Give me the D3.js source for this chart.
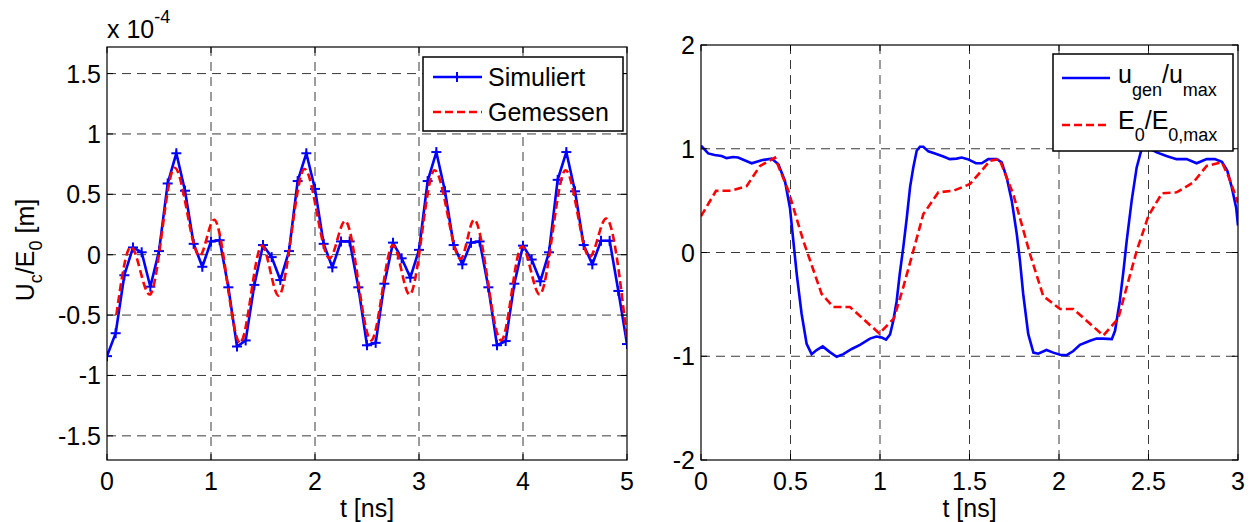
<!DOCTYPE html>
<html>
<head>
<meta charset="utf-8">
<script src="https://cdn.jsdelivr.net/npm/d3@7"></script>
<style>
  body { margin: 0; background: #fff; }
  svg { display: block; font-family: "Liberation Sans", Arial, sans-serif; }
  .grid line { stroke: #3a3a3a; stroke-width: 1; stroke-dasharray: 9,6; }
  .frame { fill: none; stroke: #000; stroke-width: 1.2; }
  .tick { stroke: #000; stroke-width: 1; }
  .blue { fill: none; stroke: #0000ff; stroke-width: 2.6; }
  .red { fill: none; stroke: #ff0000; stroke-width: 2.6; stroke-dasharray: 8,4; }
  .mark { stroke: #0000ff; stroke-width: 2; }
  text { font-size: 25px; fill: #000; }
</style>
</head>
<body>
<div id="chart"></div>
<script>
// ---- data, left panel (values in units of 1e-4 m) ----
const simStep = 1/12; // ns between simulated samples
const simValues = [-0.84,-0.65,-0.17,0.06,0.02,-0.265,0.03,0.59,0.84,0.53,
  0.09,-0.10,0.11,0.12,-0.27,-0.76,-0.71,-0.25,0.08,-0.02,
  -0.21,0.03,0.61,0.84,0.545,0.09,-0.105,0.11,0.11,-0.27,
  -0.75,-0.73,-0.24,0.10,-0.03,-0.19,0.04,0.61,0.85,0.525,
  0.08,-0.08,0.10,0.11,-0.27,-0.75,-0.715,-0.24,0.075,-0.04,
  -0.22,0.02,0.62,0.85,0.525,0.08,-0.08,0.115,0.115,-0.30,-0.74];
const measT = [0.09,0.23,0.41,0.65,0.89,1.03,1.28,1.49,1.65,1.90,2.14,2.29,2.54,
  2.75,2.91,3.15,3.40,3.53,3.79,3.99,4.16,4.41,4.64,4.80,5.00];
const measValues = [-0.50,0.065,-0.33,0.72,-0.01,0.29,-0.73,0.075,-0.34,0.71,-0.03,0.28,-0.71,
  0.08,-0.33,0.70,-0.035,0.29,-0.71,0.07,-0.33,0.70,-0.02,0.30,-0.70];
const leftXTicks = [0,1,2,3,4,5];
const leftYTicks = [-1.5,-1,-0.5,0,0.5,1,1.5];

// ---- data, right panel ----
const genT = [0,0.04,0.076,0.115,0.143,0.18,0.207,0.283,0.339,0.395,0.432,0.469,0.497,0.516,
  0.535,0.562,0.59,0.618,0.646,0.68,0.72,0.758,0.795,0.842,0.888,0.944,0.98,1.01,1.034,
  1.056,1.074,1.093,1.11,1.13,1.15,1.168,1.186,1.205,1.223,1.242,1.27,1.307,1.354,1.39,
  1.428,1.456,1.49,1.536,1.568,1.605,1.652,1.68,1.708,1.736,1.764,1.782,1.80,1.828,1.857,
  1.884,1.93,1.968,2.006,2.043,2.08,2.117,2.173,2.21,2.248,2.295,2.313,2.34,2.36,2.378,
  2.406,2.434,2.462,2.49,2.52,2.546,2.6,2.657,2.713,2.769,2.825,2.87,2.91,2.94,2.965,2.99,3.0];
const genValues = [1.03,0.955,0.94,0.93,0.91,0.92,0.915,0.86,0.89,0.905,0.85,0.69,0.43,0.11,
  -0.21,-0.59,-0.88,-0.98,-0.94,-0.905,-0.96,-1.005,-0.98,-0.93,-0.89,-0.83,-0.81,-0.82,-0.84,
  -0.79,-0.66,-0.47,-0.21,0.05,0.34,0.63,0.82,0.98,1.02,1.02,0.975,0.955,0.925,0.90,
  0.905,0.915,0.90,0.86,0.86,0.90,0.90,0.87,0.72,0.50,0.18,-0.08,-0.40,-0.785,-0.965,
  -0.975,-0.94,-0.965,-0.985,-0.99,-0.95,-0.89,-0.85,-0.83,-0.83,-0.835,-0.755,-0.465,-0.18,0.11,
  0.50,0.82,1.0,1.02,0.99,0.965,0.93,0.90,0.90,0.86,0.90,0.90,0.875,0.79,0.63,0.43,0.26];
const fieldT = [0,0.084,0.17,0.255,0.33,0.413,0.488,0.572,0.674,0.74,0.832,0.996,1.078,1.13,
  1.186,1.242,1.326,1.41,1.503,1.568,1.615,1.667,1.745,1.838,1.912,2.006,2.08,2.248,2.331,
  2.378,2.434,2.5,2.575,2.657,2.75,2.825,2.91,2.95,3.0];
const fieldValues = [0.35,0.595,0.595,0.64,0.835,0.915,0.595,0.11,-0.40,-0.525,-0.525,-0.78,-0.635,-0.335,
  0.015,0.37,0.58,0.595,0.66,0.79,0.885,0.90,0.56,-0.015,-0.42,-0.545,-0.545,-0.80,-0.635,
  -0.335,0.015,0.355,0.57,0.58,0.675,0.835,0.87,0.72,0.48];
const rightXTicks = [0,0.5,1,1.5,2,2.5,3];
const rightYTicks = [-2,-1,0,1,2];

/**
 * small matlab-like line plot
 */
class LinePlot {
  // box -> [left, top, right, bottom]
  constructor(svg, id, box, xDomain, yDomain){
    this.svg = svg;
    this.box = box;
    this.scaleX = d3.scaleLinear(xDomain, [box[0], box[2]]);
    this.scaleY = d3.scaleLinear(yDomain, [box[3], box[1]]);
    svg.append('clipPath').attr('id', id)
      .append('rect').attr('x', box[0]).attr('y', box[1])
      .attr('width', box[2]-box[0]).attr('height', box[3]-box[1]);
    this.bg = svg.append('g');
    this.plot = svg.append('g').attr('clip-path', `url(#${id})`);
    this.fg = svg.append('g');
  }

  grid(xTicks, yTicks){
    let [l, t, r, b] = this.box;
    let g = this.bg.append('g').classed('grid', true);
    g.selectAll('line.gx').data(xTicks.slice(1, -1)).join('line').classed('gx', true)
      .attr('x1', d=>this.scaleX(d)).attr('x2', d=>this.scaleX(d)).attr('y1', t).attr('y2', b);
    g.selectAll('line.gy').data(yTicks.filter(d=>this.scaleY(d) > t+1 && this.scaleY(d) < b-1))
      .join('line').classed('gy', true)
      .attr('y1', d=>this.scaleY(d)).attr('y2', d=>this.scaleY(d)).attr('x1', l).attr('x2', r);
    return this;
  }

  line(xs, ys, cls, curve = d3.curveLinear){
    let gen = d3.line().x(d=>this.scaleX(d[0])).y(d=>this.scaleY(d[1])).curve(curve);
    this.plot.append('path').datum(d3.zip(xs, ys)).classed(cls, true).attr('d', gen);
    return this;
  }

  markers(xs, ys){
    let s = 5;
    let m = this.plot.selectAll('g.mk').data(d3.zip(xs, ys)).join('g').classed('mk', true)
      .attr('transform', d=>`translate(${this.scaleX(d[0])},${this.scaleY(d[1])})`);
    m.append('line').classed('mark', true).attr('x1', -s).attr('x2', s);
    m.append('line').classed('mark', true).attr('y1', -s).attr('y2', s);
    return this;
  }

  axes(xTicks, yTicks){
    let [l, t, r, b] = this.box, len = 6;
    let g = this.fg;
    g.append('rect').classed('frame', true)
      .attr('x', l).attr('y', t).attr('width', r-l).attr('height', b-t);
    xTicks.forEach(d=>{
      let x = this.scaleX(d);
      g.append('line').classed('tick', true).attr('x1', x).attr('x2', x).attr('y1', b).attr('y2', b-len);
      g.append('line').classed('tick', true).attr('x1', x).attr('x2', x).attr('y1', t).attr('y2', t+len);
    });
    yTicks.forEach(d=>{
      let y = this.scaleY(d);
      g.append('line').classed('tick', true).attr('y1', y).attr('y2', y).attr('x1', l).attr('x2', l+len);
      g.append('line').classed('tick', true).attr('y1', y).attr('y2', y).attr('x1', r).attr('x2', r-len);
    });
    g.selectAll('text.xt').data(xTicks).join('text').classed('xt', true)
      .attr('x', d=>this.scaleX(d)).attr('y', b+30)
      .attr('text-anchor', 'middle').text(d=>String(d));
    g.selectAll('text.yt').data(yTicks).join('text').classed('yt', true)
      .attr('x', l-6).attr('y', d=>this.scaleY(d)+9)
      .attr('text-anchor', 'end').text(d=>String(d));
    g.append('text').attr('x', (l+r)/2).attr('y', b+57)
      .attr('text-anchor', 'middle').text('t [ns]');
    return this;
  }
}

// text with sub/superscripts: parts -> [[string, shift], ...]
function richText(sel, parts){
  let prev = 0;
  parts.forEach(([s, shift])=>{
    sel.append('tspan').attr('dy', shift-prev)
      .style('font-size', shift === 0 ? null : '18px').text(s);
    prev = shift;
  });
  return sel;
}

const svg = d3.select('#chart').append('svg').attr('width', 1252).attr('height', 522);

// ---- left panel ----
const left = new LinePlot(svg, 'clipL', [107, 47, 627, 460], [0, 5], [-1.7, 1.72]);
left.grid(leftXTicks, leftYTicks)
  .line(simValues.map((v,i)=>i*simStep), simValues, 'blue')
  .markers(simValues.map((v,i)=>i*simStep), simValues)
  .line(measT, measValues, 'red', d3.curveMonotoneX)
  .axes(leftXTicks, leftYTicks);

richText(svg.append('text').attr('x', 107).attr('y', 38), [['x 10', 0], ['-4', -15]]);
richText(svg.append('text').attr('transform', 'translate(34,250)rotate(-90)').attr('text-anchor', 'middle'),
  [['U', 0], ['c', 8], ['/E', 0], ['0', 8], [' [m]', 0]]);

// left legend
const legL = svg.append('g');
legL.append('rect').attr('x', 423).attr('y', 57).attr('width', 200).attr('height', 74)
  .attr('fill', '#fff').attr('stroke', '#000').attr('stroke-width', 1.5);
legL.append('line').classed('blue', true).attr('x1', 433).attr('x2', 482).attr('y1', 77).attr('y2', 77);
legL.append('line').classed('mark', true).attr('x1', 452).attr('x2', 462).attr('y1', 77).attr('y2', 77);
legL.append('line').classed('mark', true).attr('x1', 457).attr('x2', 457).attr('y1', 72).attr('y2', 82);
legL.append('text').attr('x', 488).attr('y', 86).text('Simuliert');
legL.append('line').classed('red', true).attr('x1', 433).attr('x2', 482).attr('y1', 112).attr('y2', 112);
legL.append('text').attr('x', 488).attr('y', 121).text('Gemessen');

// ---- right panel ----
const right = new LinePlot(svg, 'clipR', [701, 45, 1238, 460], [0, 3], [-2, 2]);
right.grid(rightXTicks, rightYTicks)
  .line(genT, genValues, 'blue')
  .line(fieldT, fieldValues, 'red')
  .axes(rightXTicks, rightYTicks);

// right legend
const legR = svg.append('g');
legR.append('rect').attr('x', 1053).attr('y', 54).attr('width', 180).attr('height', 97)
  .attr('fill', '#fff').attr('stroke', '#000').attr('stroke-width', 1.5);
legR.append('line').classed('blue', true).attr('x1', 1062).attr('x2', 1110).attr('y1', 78).attr('y2', 78);
legR.append('line').classed('red', true).attr('x1', 1062).attr('x2', 1110).attr('y1', 125).attr('y2', 125);
richText(legR.append('text').attr('x', 1118).attr('y', 83),
  [['u', 0], ['gen', 13], ['/u', 0], ['max', 13]]);
richText(legR.append('text').attr('x', 1118).attr('y', 129),
  [['E', 0], ['0', 12], ['/E', 0], ['0,max', 12]]);
</script>
</body>
</html>
